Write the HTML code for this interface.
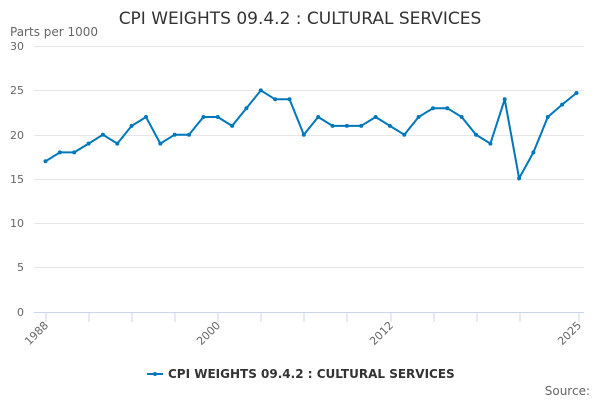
<!DOCTYPE html>
<html><head><meta charset="utf-8"><style>
body{margin:0;background:#fff;font-family:"DejaVu Sans","Liberation Sans",sans-serif}
</style></head><body>
<svg width="600" height="400" xmlns="http://www.w3.org/2000/svg" font-family="DejaVu Sans, Liberation Sans, sans-serif">
<rect width="600" height="400" fill="#fff"/>
<text x="300" y="24" text-anchor="middle" font-size="17" fill="#333">CPI WEIGHTS 09.4.2 : CULTURAL SERVICES</text>
<text x="10" y="36" font-size="12" fill="#666">Parts per 1000</text>
<g stroke="#e6e6e6" stroke-width="1">
<line x1="34" x2="584" y1="46.5" y2="46.5"/>
<line x1="34" x2="584" y1="90.5" y2="90.5"/>
<line x1="34" x2="584" y1="135.5" y2="135.5"/>
<line x1="34" x2="584" y1="179.5" y2="179.5"/>
<line x1="34" x2="584" y1="223.5" y2="223.5"/>
<line x1="34" x2="584" y1="267.5" y2="267.5"/>
</g>
<line x1="34" x2="584" y1="312.5" y2="312.5" stroke="#ccd6eb"/>
<g stroke="#ccd6eb">
<line x1="46" x2="46" y1="312" y2="322"/><line x1="89" x2="89" y1="312" y2="322"/><line x1="132" x2="132" y1="312" y2="322"/><line x1="175" x2="175" y1="312" y2="322"/><line x1="218" x2="218" y1="312" y2="322"/><line x1="261" x2="261" y1="312" y2="322"/><line x1="304" x2="304" y1="312" y2="322"/><line x1="347" x2="347" y1="312" y2="322"/><line x1="391" x2="391" y1="312" y2="322"/><line x1="434" x2="434" y1="312" y2="322"/><line x1="477" x2="477" y1="312" y2="322"/><line x1="520" x2="520" y1="312" y2="322"/><line x1="579" x2="579" y1="312" y2="322"/>
</g>
<g font-size="11" fill="#666" text-anchor="end">
<text x="24" y="50">30</text><text x="24" y="94">25</text><text x="24" y="139">20</text><text x="24" y="183">15</text><text x="24" y="227">10</text><text x="24" y="271">5</text><text x="24" y="316">0</text>
</g>
<g font-size="11" fill="#666" text-anchor="end">
<text transform="translate(49,326) rotate(-45)">1988</text>
<text transform="translate(221,326) rotate(-45)">2000</text>
<text transform="translate(394,326) rotate(-45)">2012</text>
<text transform="translate(582,326) rotate(-45)">2025</text>
</g>
<polyline id="s" fill="none" stroke="#0077bb" stroke-width="2" points="45.5,161.3 59.9,152.4 74.2,152.4 88.6,143.6 102.9,134.7 117.3,143.6 131.6,125.9 146,117 160.3,143.6 174.7,134.7 189,134.7 203.4,117 217.7,117 232.1,125.9 246.4,108.2 260.8,90.4 275.1,99.3 289.5,99.3 303.8,134.7 318.2,117 332.5,125.9 346.9,125.9 361.2,125.9 375.6,117 389.9,125.9 404.3,134.7 418.6,117 433,108.2 447.3,108.2 461.7,117 476,134.7 490.4,143.6 504.7,99.3 519.1,178.3 533.4,152.4 547.8,117 562.1,104.6 576.5,93"/>
<g fill="#0077bb">
<circle cx="45.5" cy="161.3" r="2"/><circle cx="59.9" cy="152.4" r="2"/><circle cx="74.2" cy="152.4" r="2"/><circle cx="88.6" cy="143.6" r="2"/><circle cx="102.9" cy="134.7" r="2"/><circle cx="117.3" cy="143.6" r="2"/><circle cx="131.6" cy="125.9" r="2"/><circle cx="146" cy="117" r="2"/><circle cx="160.3" cy="143.6" r="2"/><circle cx="174.7" cy="134.7" r="2"/><circle cx="189" cy="134.7" r="2"/><circle cx="203.4" cy="117" r="2"/><circle cx="217.7" cy="117" r="2"/><circle cx="232.1" cy="125.9" r="2"/><circle cx="246.4" cy="108.2" r="2"/><circle cx="260.8" cy="90.4" r="2"/><circle cx="275.1" cy="99.3" r="2"/><circle cx="289.5" cy="99.3" r="2"/><circle cx="303.8" cy="134.7" r="2"/><circle cx="318.2" cy="117" r="2"/><circle cx="332.5" cy="125.9" r="2"/><circle cx="346.9" cy="125.9" r="2"/><circle cx="361.2" cy="125.9" r="2"/><circle cx="375.6" cy="117" r="2"/><circle cx="389.9" cy="125.9" r="2"/><circle cx="404.3" cy="134.7" r="2"/><circle cx="418.6" cy="117" r="2"/><circle cx="433" cy="108.2" r="2"/><circle cx="447.3" cy="108.2" r="2"/><circle cx="461.7" cy="117" r="2"/><circle cx="476" cy="134.7" r="2"/><circle cx="490.4" cy="143.6" r="2"/><circle cx="504.7" cy="99.3" r="2"/><circle cx="519.1" cy="178.3" r="2"/><circle cx="533.4" cy="152.4" r="2"/><circle cx="547.8" cy="117" r="2"/><circle cx="562.1" cy="104.6" r="2"/><circle cx="576.5" cy="93" r="2"/>
</g>
<line x1="147" x2="163" y1="374" y2="374" stroke="#0077bb" stroke-width="2"/>
<circle cx="155" cy="374" r="2" fill="#0077bb"/>
<text x="168" y="378" font-size="12" font-weight="bold" fill="#333">CPI WEIGHTS 09.4.2 : CULTURAL SERVICES</text>
<text x="590" y="395" font-size="12" fill="#666" text-anchor="end">Source:</text>
</svg>
</body></html>
